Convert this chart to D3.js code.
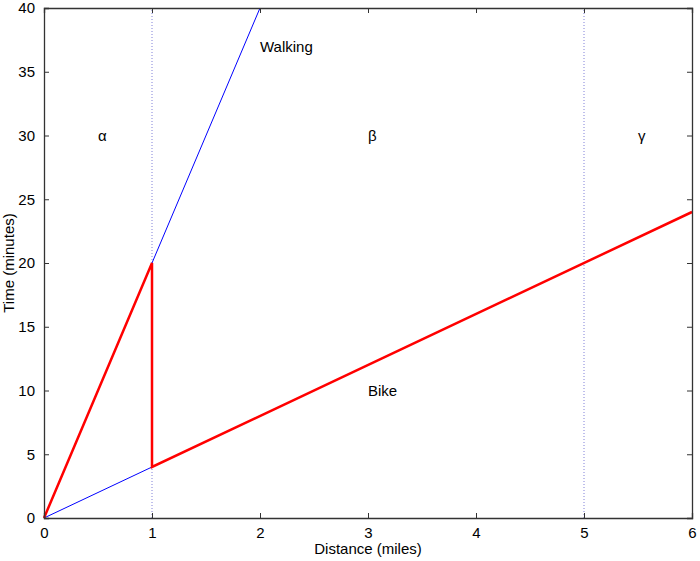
<!DOCTYPE html>
<html>
<head>
<meta charset="utf-8">
<script src="https://cdn.jsdelivr.net/npm/d3@7"></script>
<style>
  body { margin: 0; background: #fff; }
  text { font-family: "Liberation Sans", Arial, sans-serif; }
</style>
</head>
<body>
<div id="chart"></div>
<script>
// data
const xTicks = [0, 1, 2, 3, 4, 5, 6];
const yTicks = [0, 5, 10, 15, 20, 25, 30, 35, 40];
const walkingLine = [[0, 0], [2, 40]];
const bikeLine = [[0, 0], [6, 24]];
const bestRoute = [[0, 0], [1, 20], [1, 4], [6, 24]];
const zoneBounds = [1, 5];
const zoneLabels = [
  { text: 'α', x: 0.5, y: 30 },
  { text: 'β', x: 3, y: 30 },
  { text: 'γ', x: 5.5, y: 30 }
];
const lineLabels = [
  { text: 'Walking', x: 2, y: 37 },
  { text: 'Bike', x: 3, y: 10 }
];

const w = 700, h = 561;
const padL = 44, padR = 692, padT = 8, padB = 518;
const axisColor = '#333';

const x = d3.scaleLinear().domain([0, 6]).range([padL, padR]);
const y = d3.scaleLinear().domain([0, 40]).range([padB, padT]);

const svg = d3.select('#chart').append('svg')
  .attr('width', w).attr('height', h);

// zone boundaries
svg.selectAll('.zone')
  .data(zoneBounds)
  .enter()
  .append('line')
  .attr('class', 'zone')
  .attr('x1', d => x(d)).attr('x2', d => x(d))
  .attr('y1', y(0)).attr('y2', y(40))
  .attr('stroke', '#8080d8')
  .attr('stroke-width', 1)
  .attr('stroke-dasharray', '1,2');

const line = d3.line().x(d => x(d[0])).y(d => y(d[1]));

[walkingLine, bikeLine].forEach(pts => {
  svg.append('path')
    .attr('d', line(pts))
    .attr('fill', 'none')
    .attr('stroke', '#0000ff')
    .attr('stroke-width', 1);
});

svg.append('path')
  .attr('d', line(bestRoute))
  .attr('fill', 'none')
  .attr('stroke', '#ff0000')
  .attr('stroke-width', 2.5)
  .attr('stroke-linejoin', 'miter');

// labels
svg.selectAll('.zlabel')
  .data(zoneLabels.concat(lineLabels))
  .enter()
  .append('text')
  .attr('x', d => x(d.x))
  .attr('y', d => y(d.y))
  .attr('dy', '0.35em')
  .attr('font-size', 15)
  .attr('fill', '#000')
  .text(d => d.text);

// axes (box with inward ticks)
const fmt = d3.format('d');
const xAxis = svg.append('g')
  .attr('transform', `translate(0,${padB})`)
  .call(d3.axisBottom(x).tickValues(xTicks).tickFormat(fmt).tickSize(-5).tickPadding(9));
const xAxisTop = svg.append('g')
  .attr('transform', `translate(0,${padT})`)
  .call(d3.axisTop(x).tickValues(xTicks).tickSize(-5).tickFormat(''));
const yAxis = svg.append('g')
  .attr('transform', `translate(${padL},0)`)
  .call(d3.axisLeft(y).tickValues(yTicks).tickFormat(fmt).tickSize(-5).tickPadding(9));
const yAxisRight = svg.append('g')
  .attr('transform', `translate(${padR},0)`)
  .call(d3.axisRight(y).tickValues(yTicks).tickSize(-5).tickFormat(''));

[xAxis, xAxisTop, yAxis, yAxisRight].forEach(g => {
  g.select('.domain').attr('stroke', axisColor).attr('stroke-width', 1.3);
  g.selectAll('.tick line').attr('stroke', axisColor);
  g.selectAll('.tick text')
    .attr('font-size', 15)
    .attr('font-family', '"Liberation Sans", Arial, sans-serif')
    .attr('fill', '#000');
});

svg.append('text')
  .attr('x', (padL + padR) / 2)
  .attr('y', 554)
  .attr('text-anchor', 'middle')
  .attr('font-size', 15)
  .text('Distance (miles)');

svg.append('text')
  .attr('transform', `translate(14,${(padT + padB) / 2}) rotate(-90)`)
  .attr('text-anchor', 'middle')
  .attr('font-size', 15)
  .text('Time (minutes)');
</script>
</body>
</html>
